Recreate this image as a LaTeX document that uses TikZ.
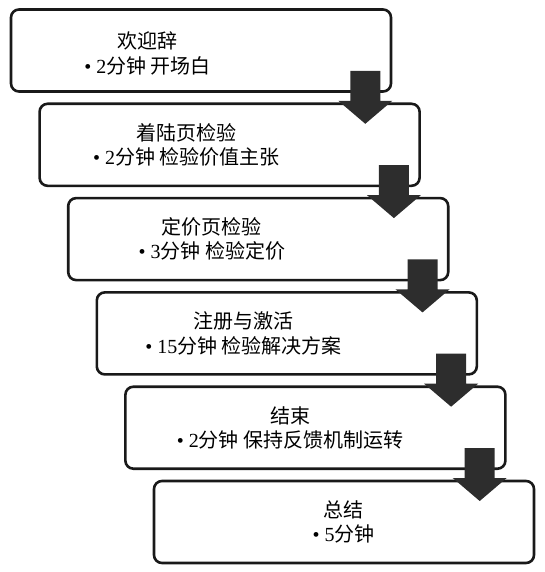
\documentclass[tikz,border=0pt]{standalone}
\usepackage{fontspec}
\setmainfont{Liberation Serif}
\newfontfamily\cjk{Noto Sans CJK SC}
\usepackage{tikz}
\usetikzlibrary{positioning}
\definecolor{arrowgray}{RGB}{45,45,45}

% block arrow hanging from the lower right corner of a box
\newcommand{\steparrow}[1]{%
  \begin{scope}[shift={(#1.south east)}]
    \fill[arrowgray] (-42,22) -- (-12,22) -- (-12,-8) -- (0,-8) -- (-27,-31)
      -- (-54,-8) -- (-42,-8) -- cycle;
  \end{scope}}

\begin{document}
\begin{tikzpicture}[x=1pt, y=1pt, node distance=94.3pt and 28.6pt, on grid,
    stage/.style={rectangle, draw=black!90, line width=2.6pt, rounded corners=8pt,
      minimum width=380pt, minimum height=82pt},
    txt/.style={align=center, inner sep=0pt, font=\fontsize{20}{24.5}\selectfont}]
    \useasboundingbox (0,0) rectangle (545,-572);

    \node[stage] (b1) at (201,-50.5) {};
    \node[stage, below right=of b1] (b2) {};
    \node[stage, below right=of b2] (b3) {};
    \node[stage, below right=of b3] (b4) {};
    \node[stage, below right=of b4] (b5) {};
    \node[stage, below right=of b5] (b6) {};

    \node[txt] (t1) at ([xshift=138pt,yshift=-3pt]b1.west) {{\cjk 欢迎辞}\\\textbullet\ 2{\cjk 分钟 开场白}};
    \node[txt] (t2) at ([xshift=148pt]b2.west) {{\cjk 着陆页检验}\\\textbullet\ 2{\cjk 分钟 检验价值主张}};
    \node[txt] (t3) at ([xshift=145pt]b3.west) {{\cjk 定价页检验}\\\textbullet\ 3{\cjk 分钟 检验定价}};
    \node[txt] (t4) at ([xshift=148pt]b4.west) {{\cjk 注册与激活}\\\textbullet\ 15{\cjk 分钟 检验解决方案}};
    \node[txt] (t5) at ([xshift=166pt]b5.west) {{\cjk 结束}\\\textbullet\ 2{\cjk 分钟 保持反馈机制运转}};
    \node[txt] (t6) at ([xshift=191pt]b6.west) {{\cjk 总结}\\\textbullet\ 5{\cjk 分钟}};

    \steparrow{b1}
    \steparrow{b2}
    \steparrow{b3}
    \steparrow{b4}
    \steparrow{b5}
\end{tikzpicture}
\end{document}
